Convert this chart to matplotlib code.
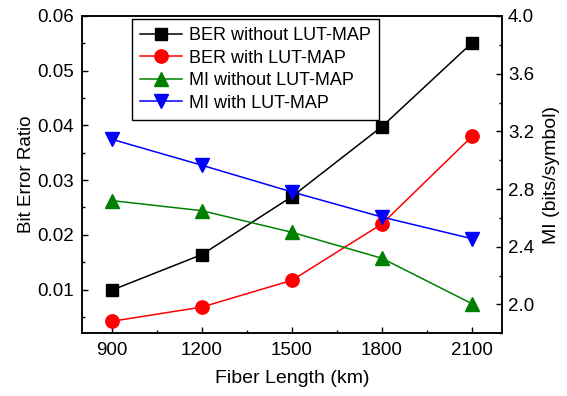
import matplotlib
matplotlib.use("Agg")
import matplotlib.pyplot as plt
from matplotlib.ticker import MultipleLocator

# Data
fiber_km = [900, 1200, 1500, 1800, 2100]
ber_without = [0.0099, 0.0164, 0.0270, 0.0398, 0.0551]
ber_with = [0.0042, 0.0068, 0.0117, 0.0220, 0.0380]
mi_without = [2.72, 2.65, 2.50, 2.32, 2.005]
mi_with = [3.145, 2.965, 2.78, 2.606, 2.456]

x_ticks = [900, 1200, 1500, 1800, 2100]
left_ticks = [0.01, 0.02, 0.03, 0.04, 0.05, 0.06]
right_ticks = [2.0, 2.4, 2.8, 3.2, 3.6, 4.0]

plt.rcParams["font.family"] = ["Liberation Sans", "DejaVu Sans"]
plt.rcParams["font.size"] = 13

fig = plt.figure(figsize=(5.67, 3.96), dpi=100)
ax = fig.add_axes([0.1446, 0.1583, 0.8854 - 0.1446, 0.9596 - 0.1583])
ax2 = ax.twinx()

lw = 1.1
h1, = ax.plot(fiber_km, ber_without, "-s", color="black", lw=lw, ms=8.6,
              label="BER without LUT-MAP")
h2, = ax.plot(fiber_km, ber_with, "-o", color="red", lw=lw, ms=9.6,
              label="BER with LUT-MAP")
h3, = ax2.plot(fiber_km, mi_without, "-^", color="green", lw=lw, ms=9.6,
               label="MI without LUT-MAP")
h4, = ax2.plot(fiber_km, mi_with, "-v", color="blue", lw=lw, ms=9.6,
               label="MI with LUT-MAP")

ax.set_xlim(800, 2200)
ax.set_ylim(0.002, 0.06)
ax2.set_ylim(1.8, 4.0)

ax.set_xticks(x_ticks)
ax.xaxis.set_minor_locator(MultipleLocator(150))
ax.set_yticks(left_ticks)
ax.set_yticklabels([f"{v:.2f}" for v in left_ticks])
ax.yaxis.set_minor_locator(MultipleLocator(0.005))
ax2.set_yticks(right_ticks)
ax2.set_yticklabels([f"{v:.1f}" for v in right_ticks])
ax2.yaxis.set_minor_locator(MultipleLocator(0.2))

for a in (ax, ax2):
    a.tick_params(which="major", direction="in", length=4, width=1.0, labelsize=13.5)
    a.tick_params(which="minor", direction="in", length=2.5, width=1.0)
    for s in a.spines.values():
        s.set_linewidth(1.1)
ax.tick_params(axis="both", which="both", top=False, right=False)
ax.tick_params(axis="x", pad=6)
ax.tick_params(axis="y", pad=5.5)
ax2.tick_params(axis="y", pad=4.3)

ax.set_xlabel("Fiber Length (km)", fontsize=14, labelpad=8)
ax.set_ylabel("Bit Error Ratio", fontsize=13.5, labelpad=2)
ax2.set_ylabel("MI (bits/symbol)", fontsize=14, labelpad=6)

leg = ax.legend(handles=[h1, h2, h3, h4], loc="upper left",
                bbox_to_anchor=(0.119, 0.99), borderaxespad=0,
                fontsize=13, handlelength=2.3, handletextpad=0.4,
                labelspacing=0.3, borderpad=0.45,
                fancybox=False, framealpha=1, edgecolor="black")
leg.get_frame().set_linewidth(1.0)

fig.savefig("out.png", dpi=100)
